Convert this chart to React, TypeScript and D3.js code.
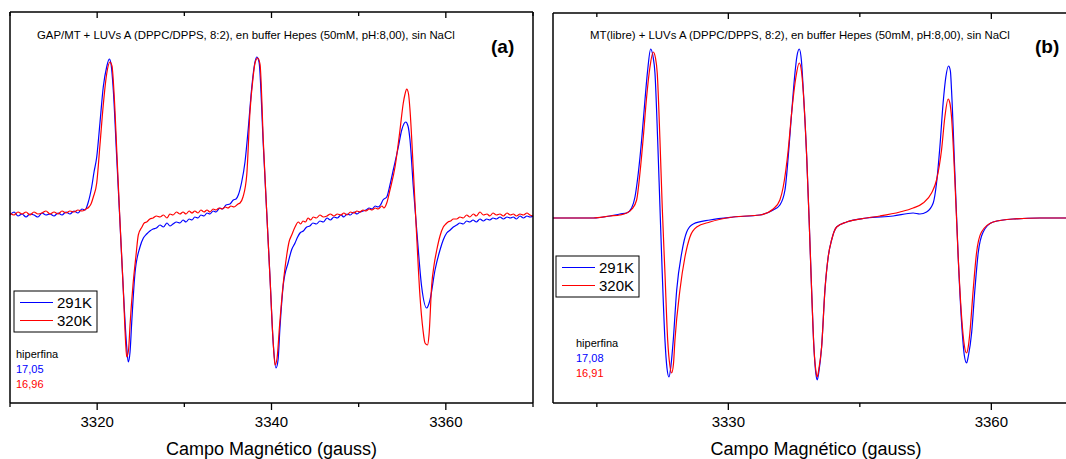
import React from "react";
import * as d3 from "d3";

type P = [number, number];

// ---------- Panel (a): GAP/MT ----------
const titleA = "GAP/MT + LUVs A (DPPC/DPPS, 8:2), en buffer Hepes (50mM, pH:8,00), sin NaCl";
const hypA = ["17,05", "16,96"];
const majorTicksA = [3320, 3340, 3360];
const minorTicksA = [3310, 3330, 3350, 3370];

const blueA: P[] = [
  [3310.00,-2],[3310.46,1],[3310.92,-3],[3311.38,-1],[3311.84,-4],[3312.29,-1],[3312.75,-2],[3313.21,-4],[3313.67,0],[3314.13,-2],[3314.59,-1],[3315.05,-3],[3315.51,0],[3315.97,-2],[3316.42,1],[3316.88,-1],[3317.34,2],[3317.80,0],[3318.26,4],[3318.60,3],[3318.95,10],[3319.37,26],[3319.64,41],[3319.95,56],[3320.32,90],[3320.70,126],[3321.09,146],[3321.39,154],[3321.59,149],[3321.85,123],[3322.24,56],[3322.62,-10],[3323.00,-77],[3323.39,-134],[3323.57,-149],[3323.77,-139],[3323.96,-110],[3324.34,-60],[3324.91,-34],[3325.30,-25],[3325.68,-21],[3326.05,-18],[3326.41,-16],[3326.80,-15],[3327.21,-12],[3327.60,-14],[3328.01,-10],[3328.35,-13],[3328.70,-11],[3329.10,-9],[3329.50,-10],[3329.85,-7],[3330.19,-9],[3330.55,-6],[3330.88,-7],[3331.20,-4],[3331.57,-5],[3331.90,-2],[3332.26,-3],[3332.60,0],[3332.94,-1],[3333.30,2],[3333.63,1],[3334.09,5],[3334.40,4],[3334.78,8],[3335.24,9],[3335.62,13],[3335.93,14],[3336.19,18],[3336.58,31],[3336.96,51],[3337.34,85],[3337.73,125],[3337.99,145],[3338.30,156],[3338.57,151],[3339.06,68],[3339.45,1],[3339.83,-65],[3340.21,-132],[3340.52,-155],[3340.75,-147],[3340.97,-115],[3341.35,-72],[3341.93,-49],[3342.30,-37],[3342.70,-30],[3343.00,-24],[3343.27,-20],[3343.65,-18],[3344.04,-14],[3344.40,-13],[3344.76,-10],[3345.15,-11],[3345.56,-8],[3345.95,-9],[3346.37,-5],[3346.75,-7],[3347.17,-4],[3347.55,-5],[3347.97,-2],[3348.30,-4],[3348.66,-1],[3349.05,-2],[3349.46,1],[3349.80,-1],[3350.15,1],[3350.50,2],[3350.84,3],[3351.20,5],[3351.53,4],[3351.90,7],[3352.22,6],[3352.50,8],[3352.79,13],[3353.22,16],[3353.59,28],[3353.97,43],[3354.55,66],[3354.94,83],[3355.40,91],[3355.66,87],[3355.89,73],[3356.27,26],[3356.66,-17],[3357.23,-74],[3357.80,-95],[3358.18,-87],[3358.76,-57],[3359.33,-37],[3359.70,-27],[3360.10,-20],[3360.50,-17],[3360.86,-14],[3361.25,-12],[3361.62,-10],[3362.00,-11],[3362.39,-8],[3362.75,-9],[3363.12,-7],[3363.50,-9],[3363.92,-6],[3364.30,-8],[3364.69,-6],[3365.05,-7],[3365.41,-5],[3365.80,-6],[3366.21,-4],[3366.60,-6],[3367.02,-4],[3367.40,-5],[3367.74,-4],[3368.10,-6],[3368.51,-3],[3368.90,-5],[3369.31,-3],[3369.65,-4],[3370.00,-3]
];

const redA: P[] = [
  [3310.00,0],[3310.46,-2],[3310.92,1],[3311.38,-1],[3311.84,1],[3312.29,-2],[3312.75,1],[3313.21,-1],[3313.67,0],[3314.13,2],[3314.59,-1],[3315.05,1],[3315.51,-1],[3315.97,2],[3316.42,0],[3316.88,2],[3317.34,1],[3317.80,3],[3318.26,2],[3318.72,4],[3319.06,6],[3319.29,9],[3319.56,16],[3319.95,30],[3320.32,68],[3320.70,108],[3321.09,139],[3321.47,151],[3321.70,147],[3321.93,121],[3322.28,56],[3322.62,-9],[3323.00,-77],[3323.25,-127],[3323.39,-144],[3323.60,-137],[3323.77,-112],[3324.11,-72],[3324.46,-42],[3324.72,-22],[3325.14,-14],[3325.40,-10],[3325.68,-9],[3326.05,-6],[3326.41,-5],[3326.80,-3],[3327.21,-4],[3327.60,-2],[3328.01,-5],[3328.35,-1],[3328.70,-2],[3329.10,1],[3329.50,-1],[3329.85,1],[3330.19,-1],[3330.55,2],[3330.88,0],[3331.20,2],[3331.57,0],[3331.90,3],[3332.26,1],[3332.60,3],[3332.94,1],[3333.30,4],[3333.63,3],[3334.00,5],[3334.32,4],[3334.70,6],[3335.01,5],[3335.35,7],[3335.70,6],[3336.16,9],[3336.39,10],[3336.73,16],[3337.16,38],[3337.53,101],[3337.88,135],[3338.11,150],[3338.42,155],[3338.68,149],[3339.08,68],[3339.45,1],[3339.83,-65],[3340.18,-127],[3340.41,-152],[3340.64,-145],[3340.93,-112],[3341.33,-72],[3341.75,-42],[3342.01,-29],[3342.32,-22],[3342.70,-14],[3343.08,-9],[3343.35,-11],[3343.61,-8],[3343.90,-9],[3344.19,-5],[3344.50,-7],[3344.79,-4],[3345.15,-5],[3345.56,-2],[3345.95,-4],[3346.37,-3],[3346.75,-1],[3347.17,-3],[3347.55,-1],[3347.97,-2],[3348.30,0],[3348.66,-2],[3349.05,1],[3349.46,0],[3349.80,2],[3350.15,1],[3350.50,3],[3350.84,2],[3351.20,4],[3351.53,3],[3351.90,5],[3352.22,4],[3352.67,7],[3352.90,5],[3353.22,10],[3353.59,23],[3354.17,46],[3354.74,83],[3355.12,110],[3355.32,119],[3355.51,124],[3355.72,119],[3355.89,103],[3356.27,43],[3356.66,-24],[3357.04,-84],[3357.38,-117],[3357.61,-130],[3357.90,-132],[3358.07,-122],[3358.38,-72],[3358.65,-52],[3358.96,-37],[3359.33,-23],[3359.71,-14],[3360.00,-11],[3360.25,-9],[3360.55,-8],[3360.86,-6],[3361.25,-6],[3361.62,-4],[3362.00,-5],[3362.39,-2],[3362.75,-4],[3363.16,-1],[3363.50,-3],[3363.92,1],[3364.30,-2],[3364.72,-1],[3365.05,-3],[3365.41,0],[3365.80,-2],[3366.21,-1],[3366.60,-3],[3367.02,0],[3367.40,-2],[3367.74,-1],[3368.10,-3],[3368.51,-1],[3368.90,-2],[3369.31,0],[3369.65,-2],[3370.00,-3]
];

// ---------- Panel (b): MT(libre) ----------
const titleB = "MT(libre) + LUVs A (DPPC/DPPS, 8:2), en buffer Hepes (50mM, pH:8,00), sin NaCl";
const hypB = ["17,08", "16,91"];
const majorTicksB = [3330, 3360];
const minorTicksB = [3315, 3345];

const blueB: P[] = [
  [3310.00,-2],[3310.80,-2],[3314.60,-2],[3316.50,0],[3317.64,2],[3318.40,3],[3318.97,8],[3319.35,19],[3319.73,43],[3320.11,76],[3320.49,116],[3320.80,146],[3321.14,167],[3321.40,160],[3321.63,143],[3321.94,76],[3322.20,9],[3322.46,-57],[3322.77,-124],[3323.00,-152],[3323.23,-161],[3323.45,-150],[3323.72,-124],[3324.11,-74],[3324.68,-37],[3325.25,-16],[3326.00,-8],[3327.90,-4],[3330.56,-1],[3333.60,1],[3335.12,6],[3335.88,11],[3336.46,26],[3336.83,59],[3337.22,103],[3337.60,143],[3337.83,160],[3338.09,167],[3338.34,155],[3338.55,126],[3338.94,59],[3339.23,-7],[3339.50,-74],[3339.76,-131],[3339.99,-158],[3340.14,-164],[3340.34,-155],[3340.64,-131],[3341.02,-74],[3341.39,-41],[3341.78,-24],[3342.35,-11],[3343.49,-6],[3345.77,-2],[3348.80,0],[3351.08,3],[3351.85,2],[3352.61,4],[3353.37,13],[3353.75,33],[3354.13,69],[3354.50,113],[3354.81,139],[3355.12,150],[3355.33,145],[3355.46,126],[3355.84,43],[3356.22,-41],[3356.61,-107],[3356.93,-140],[3357.18,-147],[3357.38,-140],[3357.75,-117],[3358.12,-74],[3358.50,-37],[3359.07,-16],[3360.21,-6],[3362.49,-3],[3365.54,-2],[3368.50,-2],[3370.10,-2]
];

const redB: P[] = [
  [3310.00,-2],[3310.80,-2],[3314.60,-2],[3316.50,0],[3317.64,1],[3318.40,3],[3319.01,7],[3319.54,16],[3319.92,43],[3320.30,79],[3320.68,119],[3321.06,149],[3321.43,164],[3321.69,158],[3321.89,143],[3322.20,76],[3322.46,9],[3322.77,-57],[3323.08,-124],[3323.34,-150],[3323.53,-157],[3323.74,-148],[3323.91,-124],[3324.48,-74],[3325.05,-41],[3325.62,-21],[3326.39,-11],[3327.90,-6],[3330.56,-1],[3333.60,1],[3335.12,7],[3335.88,16],[3336.26,29],[3336.83,66],[3337.22,103],[3337.71,139],[3338.09,153],[3338.34,145],[3338.55,124],[3338.94,59],[3339.23,-7],[3339.50,-74],[3339.76,-131],[3339.99,-155],[3340.14,-161],[3340.34,-152],[3340.64,-131],[3341.02,-74],[3341.39,-41],[3341.78,-24],[3342.35,-11],[3343.49,-6],[3345.77,-2],[3347.29,0],[3349.57,4],[3351.08,8],[3352.22,13],[3353.18,23],[3353.75,36],[3354.32,66],[3354.70,99],[3355.07,117],[3355.27,113],[3355.46,99],[3355.84,36],[3356.22,-41],[3356.61,-101],[3356.93,-130],[3357.18,-137],[3357.38,-130],[3357.55,-117],[3357.93,-74],[3358.31,-37],[3358.88,-16],[3360.21,-6],[3362.49,-3],[3365.54,-2],[3368.50,-2],[3370.10,-2]
];

const seriesLabels = ["291K", "320K"];
const seriesColors = ["#0000ff", "#ff0000"];
const axisTitle = "Campo Magnético (gauss)";
const hypLabel = "hiperfina";

const FONT = "'Liberation Sans', Arial, Helvetica, sans-serif";

interface PanelProps {
  id: string;
  left: number; right: number; top: number; bottom: number;
  xDomain: [number, number]; xRangeRight: number;
  yDomain: [number, number];
  blue: P[]; red: P[];
  major: number[]; minor: number[];
  title: string; titleX: number;
  tag: string; tagX: number;
  legend: { x: number; y: number };
  hyp: { x: number; y: number; vals: string[] };
  drawRight: boolean;
  curve: d3.CurveFactory;
}

function Panel(p: PanelProps) {
  const x = d3.scaleLinear().domain(p.xDomain).range([p.left, p.xRangeRight]);
  const y = d3.scaleLinear().domain(p.yDomain).range([p.bottom, p.top]);
  const line = d3.line<P>().x(d => x(d[0])).y(d => y(d[1])).curve(p.curve);
  const cx = (p.left + p.right) / 2;
  return (
    <g>
      <defs>
        <clipPath id={p.id}>
          <rect x={p.left} y={p.top} width={p.right - p.left} height={p.bottom - p.top} />
        </clipPath>
      </defs>
      <g clipPath={`url(#${p.id})`}>
        <path d={line(p.blue) || ""} fill="none" stroke={seriesColors[0]} strokeWidth={1.2} />
        <path d={line(p.red) || ""} fill="none" stroke={seriesColors[1]} strokeWidth={1.2} />
      </g>
      {/* frame */}
      <line x1={p.left} x2={p.right} y1={p.top} y2={p.top} stroke="#000" strokeWidth={1.5} />
      <line x1={p.left} x2={p.right} y1={p.bottom} y2={p.bottom} stroke="#000" strokeWidth={1.5} />
      <line x1={p.left} x2={p.left} y1={p.top} y2={p.bottom} stroke="#000" strokeWidth={1.5} />
      {p.drawRight && <line x1={p.right} x2={p.right} y1={p.top} y2={p.bottom} stroke="#000" strokeWidth={1.5} />}
      {/* ticks */}
      {p.major.map(t => (
        <g key={"M" + t}>
          <line x1={x(t)} x2={x(t)} y1={p.bottom} y2={p.bottom + 7} stroke="#000" strokeWidth={1.3} />
          <line x1={x(t)} x2={x(t)} y1={p.top} y2={p.top + 6} stroke="#000" strokeWidth={1.3} />
          <text x={x(t)} y={p.bottom + 24} textAnchor="middle" fontSize={15} fontFamily={FONT} fill="#000">{t}</text>
        </g>
      ))}
      {p.minor.map(t => (
        <g key={"m" + t}>
          <line x1={x(t)} x2={x(t)} y1={p.bottom} y2={p.bottom + 4} stroke="#000" strokeWidth={1.3} />
          <line x1={x(t)} x2={x(t)} y1={p.top} y2={p.top + 4} stroke="#000" strokeWidth={1.3} />
        </g>
      ))}
      <text x={cx} y={455} textAnchor="middle" fontSize={18} fontFamily={FONT} fill="#000">{axisTitle}</text>
      <text x={p.titleX} y={38.5} fontSize={11.4} fontFamily={FONT} fill="#000">{p.title}</text>
      <text x={p.tagX} y={53} fontSize={19} fontWeight="bold" fontFamily={FONT} fill="#000">{p.tag}</text>
      {/* legend */}
      <g transform={`translate(${p.legend.x},${p.legend.y})`}>
        <rect x={0} y={0} width={83} height={41} fill="#fff" stroke="#000" strokeWidth={1} />
        {seriesLabels.map((s, i) => (
          <g key={s}>
            <line x1={6} x2={39} y1={11.5 + i * 18} y2={11.5 + i * 18} stroke={seriesColors[i]} strokeWidth={1.2} />
            <text x={43} y={17 + i * 18} fontSize={15} fontFamily={FONT} fill="#000">{s}</text>
          </g>
        ))}
      </g>
      <text x={p.hyp.x} y={p.hyp.y} fontSize={11} fontFamily={FONT} fill="#000">{hypLabel}</text>
      {p.hyp.vals.map((v, i) => (
        <text key={v} x={p.hyp.x} y={p.hyp.y + 15 * (i + 1)} fontSize={11} fontFamily={FONT} fill={seriesColors[i]}>{v}</text>
      ))}
    </g>
  );
}

export default function App() {
  return (
    <svg width={1066} height={459} style={{ position: "absolute", left: 0, top: 0, background: "#fff" }}>
      <rect x={0} y={0} width={1066} height={459} fill="#fff" />
      <Panel id="clipA" left={10} right={533} top={12} bottom={403}
        xDomain={[3310, 3370]} xRangeRight={533} yDomain={[-190, 201]}
        blue={blueA} red={redA} major={majorTicksA} minor={minorTicksA}
        title={titleA} titleX={37} tag="(a)" tagX={491}
        legend={{ x: 14, y: 291 }} hyp={{ x: 16, y: 358, vals: hypA }}
        drawRight={true} curve={d3.curveMonotoneX} />
      <Panel id="clipB" left={553} right={1079} top={13} bottom={403}
        xDomain={[3310, 3370]} xRangeRight={1079} yDomain={[-187, 203]}
        blue={blueB} red={redB} major={majorTicksB} minor={minorTicksB}
        title={titleB} titleX={590} tag="(b)" tagX={1035}
        legend={{ x: 556, y: 256 }} hyp={{ x: 576, y: 347, vals: hypB }}
        drawRight={false} curve={d3.curveMonotoneX} />
    </svg>
  );
}
